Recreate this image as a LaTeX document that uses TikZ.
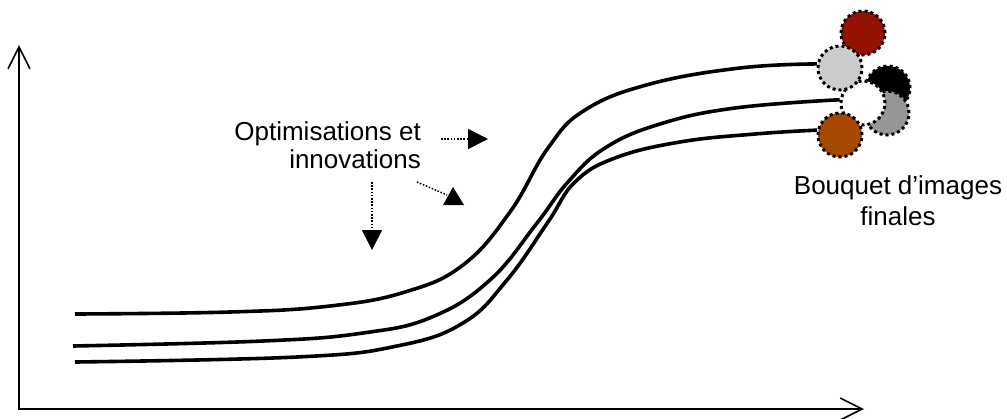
\documentclass[tikz,border=0pt]{standalone}
\usepackage{fontspec}
\setmainfont{Liberation Sans}
\usetikzlibrary{arrows.meta}
\definecolor{cRed}{RGB}{150,18,0}
\definecolor{cLight}{RGB}{204,204,204}
\definecolor{cGray}{RGB}{150,150,150}
\definecolor{cBrown}{RGB}{168,72,0}
\begin{document}
\begin{tikzpicture}[x=1pt,y=-1pt,
  axis/.style={line width=1.6pt,{Straight Barb[length=22pt,width=22pt,line width=1.6pt]}-{Straight Barb[length=22pt,width=22pt,line width=1.6pt]}},
  curve/.style={line width=3.6pt,line cap=butt},
  blob/.style={circle,minimum size=44pt,inner sep=0pt,draw=black,line width=3pt,dash pattern=on 3pt off 3pt},
  hint/.style={line width=1.6pt,dash pattern=on 1.5pt off 1.7pt},
  hinttip/.style={hint,-{Triangle[length=20pt,width=20pt]}},
  lbl/.style={inner sep=0pt}
]
\useasboundingbox (0,0) rectangle (1007,418);

% axes
\coordinate (O) at (19,409);
\coordinate (ytop) at (19,45);
\coordinate (xend) at (864,409);
\draw[axis] (ytop) -- (O) -- (xend);

% bouquet of images
\node[blob,fill=cRed]   (red)   at (863,33)  {};
\node[blob,fill=black]  (blk)   at (888,88)  {};
\node[blob,fill=cGray]  (gry)   at (887,113) {};
\node[blob,fill=white]  (wht)   at (863,103) {};
\node[blob,fill=cLight] (lgt)   at (840,68)  {};
\node[blob,fill=cBrown] (brn)   at (840,135) {};

% curves
\coordinate (s1) at (75,314);
\coordinate (s2) at (73,346);
\coordinate (s3) at (75,362);
\draw[curve] plot[smooth,tension=0.7] coordinates {(s1) (230,312) (330,306) (405,292) (463,265) (510,212) (548,148) (585,110) (650,84) (740,68) (lgt.170)};
\draw[curve] plot[smooth,tension=0.7] coordinates {(s2) (263,341) (363,333) (432,317) (490,280) (537,223) (568,182) (605,148) (660,124) (735,108) (wht.172)};
\draw[curve] plot[smooth,tension=0.7] coordinates {(s3) (297,357) (397,346) (463,323) (507,280) (548,222) (575,182) (615,158) (680,142) (755,134) (brn.168)};

% labels
\node[lbl,anchor=north east,align=right,font=\fontsize{26}{28}\selectfont] (opt) at (421,121) {Optimisations et\\innovations};
\node[lbl,anchor=north,align=center,font=\fontsize{26}{31}\selectfont] (bq) at (898,175) {Bouquet d’images\\finales};

% hint arrows
\coordinate (h1s) at (441,139);
\coordinate (h1e) at (488,139);
\coordinate (h2s) at (417,182);
\coordinate (h2e) at (447,195);
\coordinate (h3s) at (372,182);
\coordinate (h3e) at (372,250);
\draw[hinttip] (h1s) -- (h1e);
\draw[hint] (h2s) -- (h2e);
\fill (453,187) -- (443,205) -- (464,205) -- cycle;
\draw[hinttip] (h3s) -- (h3e);
\end{tikzpicture}
\end{document}
